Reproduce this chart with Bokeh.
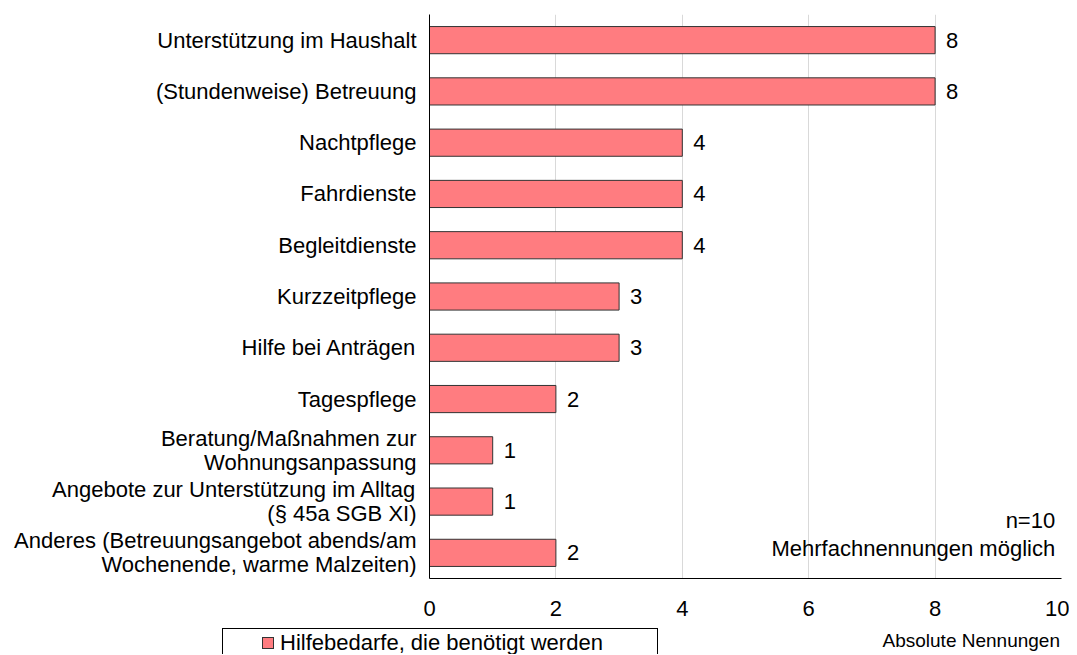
from bokeh.plotting import figure
from bokeh.layouts import column
from bokeh.models import (ColumnDataSource, FactorRange, Range1d, Label, FixedTicker, Div)
from bokeh.embed import file_html
from bokeh.resources import INLINE
from bokeh.core.properties import value

categories = [
    "Unterstützung im Haushalt",
    "(Stundenweise) Betreuung",
    "Nachtpflege",
    "Fahrdienste",
    "Begleitdienste",
    "Kurzzeitpflege",
    "Hilfe bei Anträgen",
    "Tagespflege",
    "Beratung/Maßnahmen zur\nWohnungsanpassung",
    "Angebote zur Unterstützung im Alltag\n(§ 45a SGB XI)",
    "Anderes (Betreuungsangebot abends/am\nWochenende, warme Malzeiten)",
]
values = [8, 8, 4, 4, 4, 3, 3, 2, 1, 1, 2]
series_name = "Hilfebedarfe, die benötigt werden"
x_ticks = [0, 2, 4, 6, 8, 10]
x_title = "Absolute Nennungen"
notes = ["n=10", "Mehrfachnennungen möglich"]

FONT = "Liberation Sans"
FS = "22px"
BAR_FILL = "#FF7C80"
BAR_LINE = "#333333"

src = ColumnDataSource(data=dict(cat=categories, val=values, lbl=[str(v) for v in values]))

p = figure(
    width=1069, height=628,
    y_range=FactorRange(*reversed(categories), range_padding=0),
    x_range=Range1d(0, 10),
    output_backend="svg", toolbar_location=None,
    min_border_left=429, min_border_right=8, min_border_top=14, min_border_bottom=50,
)
p.outline_line_color = None

p.hbar(y="cat", right="val", left=0, height=0.53, source=src,
       fill_color=BAR_FILL, line_color=BAR_LINE, line_width=1)

p.text(x="val", y="cat", text="lbl", source=src, x_offset=11,
       text_baseline="middle", text_align="left",
       text_font=value(FONT), text_font_size=FS, text_color="#000000")

# axes
p.xaxis.ticker = FixedTicker(ticks=x_ticks)
p.xaxis.major_tick_line_color = None
p.xaxis.minor_tick_line_color = None
p.xaxis.major_label_standoff = 16
p.xaxis.major_label_text_font = FONT
p.xaxis.major_label_text_font_size = FS
p.xaxis.major_label_text_color = "#000000"
p.xaxis.axis_line_color = "#000000"

p.yaxis.major_tick_line_color = None
p.yaxis.minor_tick_line_color = None
p.yaxis.major_label_standoff = 7
p.yaxis.major_label_text_font = FONT
p.yaxis.major_label_text_font_size = FS
p.yaxis.major_label_text_color = "#000000"
p.yaxis.axis_line_color = "#000000"
try:
    p.yaxis.major_label_text_line_height = 0.95
except Exception:
    pass

p.xgrid.ticker = FixedTicker(ticks=x_ticks[1:])
p.xgrid.grid_line_color = "#d9d9d9"
p.ygrid.grid_line_color = None

# notes inside the plot
p.add_layout(Label(x=9.9, y=1.13, text=notes[0], text_align="right", text_baseline="middle",
                   text_font=FONT, text_font_size=FS, text_color="#000000"))
p.add_layout(Label(x=9.9, y=0.585, text=notes[1], text_align="right",
                   text_baseline="middle", text_font=FONT, text_font_size=FS,
                   text_color="#000000"))

# bottom strip: legend and x-axis title
strip_html = f"""
<div style="position:relative;width:1069px;height:26px;overflow:hidden;
            font-family:'{FONT}', Arial, sans-serif;color:#000;">
  <div style="position:absolute;left:222px;top:0px;width:436px;height:40px;
              border:1px solid #000;box-sizing:border-box;"></div>
  <div style="position:absolute;left:262px;top:9px;width:12px;height:12px;
              background:{BAR_FILL};border:1px solid {BAR_LINE};box-sizing:border-box;"></div>
  <div style="position:absolute;left:280px;top:3px;font-size:22px;line-height:24px;
              white-space:nowrap;">{series_name}</div>
  <div style="position:absolute;right:9px;top:3px;font-size:19px;line-height:19px;
              white-space:nowrap;">{x_title}</div>
</div>
"""
strip = Div(text=strip_html, width=1069, height=26, margin=0)

layout = column(p, strip, spacing=0)
open("out.html", "w").write(file_html(layout, INLINE))
